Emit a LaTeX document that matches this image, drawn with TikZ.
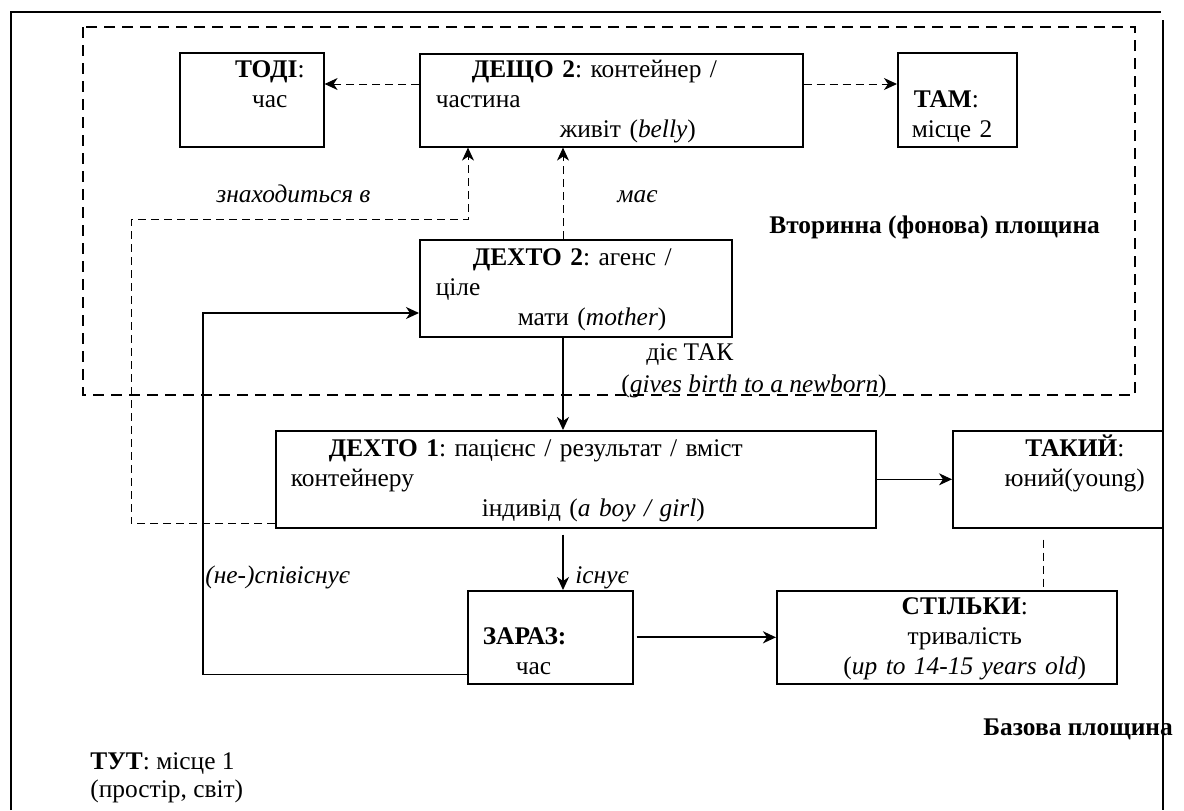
\documentclass[tikz,border=0pt]{standalone}
\usepackage{fontspec}
\setmainfont{Liberation Serif}
\usetikzlibrary{arrows.meta}

\newcommand{\topstrut}{\rule{0pt}{12pt}}
\newcommand{\botstrut}{\rule[-4.5pt]{0pt}{4.5pt}}
\frenchspacing

\begin{document}
\begin{tikzpicture}[x=0.5pt, y=-0.5pt, font=\fontsize{12.7}{15}\selectfont]

    \tikzstyle{box} = [draw, line width=0.8pt, inner sep=0, anchor=north west];
    \tikzstyle{leftbox} = [box, align=left];
    \tikzstyle{centerbox} = [box, align=center];
    \tikzstyle{arrow} = [line width=0.6pt, ->, >={Stealth[length=6.5pt, width=6pt, inset=2pt]}];
    \tikzstyle{dasharrow} = [arrow, line width=0.5pt, dash pattern=on 4pt off 2.5pt];
    \tikzstyle{dashline} = [line width=0.5pt, dash pattern=on 4pt off 2.5pt];
    \tikzstyle{plane} = [line width=1pt, dash pattern=on 5.5pt off 3.5pt];
    \tikzstyle{labelnode} = [inner sep=0, anchor=base west];

    \useasboundingbox (0,0) rectangle (1184,810);

    % Frames
    \draw[line width=0.7pt] (11,810) -- (11,12) -- (1161,12);
    \draw[line width=0.7pt] (1163,20) -- (1163,810);
    \draw[plane] (83,27) rectangle (1135,395);

    % Secondary plane
    \node[centerbox, text width=72pt, minimum height=47pt] (todi) at (179,52)
        {\topstrut\hspace*{18pt}\textbf{ТОДІ}:\\ \hspace*{18pt}час\\ \botstrut};
    \node[leftbox, text width=191.5pt, minimum height=46.5pt] (deshcho) at (419,53)
        {\topstrut\hspace*{26pt}\textbf{ДЕЩО 2}: контейнер /\\ \hspace*{8pt}частина\\ \hspace*{70pt}живіт (\textit{belly})\botstrut};
    \node[leftbox, text width=59.5pt, minimum height=47pt] (tam) at (897,52)
        {\topstrut\\ \hspace*{8pt}\textbf{ТАМ}:\\ \hspace*{7pt}місце 2\botstrut};
    \node[leftbox, text width=156pt, minimum height=48.5pt] (dekhto2) at (419,239)
        {\topstrut\hspace*{26.5pt}\textbf{ДЕХТО 2}: агенс /\\ \hspace*{8pt}ціле\\ \hspace*{49pt}мати (\textit{mother})\botstrut};

    % Base plane
    \node[leftbox, text width=300pt, minimum height=48.5pt] (dekhto1) at (275,430)
        {\topstrut\hspace*{26.5pt}\textbf{ДЕХТО 1}: пацієнс / результат / вміст\\ \hspace*{7.5pt}контейнеру\\ \hspace*{103pt}індивід (\textit{a boy / girl})\botstrut};
    \node[centerbox, text width=105pt, minimum height=48.5pt] (takyi) at (952,430)
        {\topstrut\hspace*{17pt}\textbf{ТАКИЙ}:\\ \hspace*{17pt}юний(young)\\ \botstrut};
    \node[leftbox, text width=82.5pt, minimum height=46.5pt] (zaraz) at (467,590)
        {\topstrut\\ \hspace*{7.5pt}\textbf{ЗАРАЗ:}\\ \hspace*{24pt}час\botstrut};
    \node[centerbox, text width=170pt, minimum height=46.5pt] (stilky) at (776,590)
        {\topstrut\hspace*{18pt}\textbf{СТІЛЬКИ}:\\ \hspace*{18pt}тривалість\\ \hspace*{18pt}(\textit{up to 14-15 years old})\botstrut};

    % Connectors
    \coordinate (midcol) at (563,0);

    \draw[dasharrow] ([yshift=-15.5pt]deshcho.north west) -- ([yshift=-16pt]todi.north east);
    \draw[dasharrow] ([yshift=-15.5pt]deshcho.north east) -- ([yshift=-16pt]tam.north west);
    \draw[dasharrow] (dekhto2.north -| midcol) -- (deshcho.south -| midcol);
    \draw[dasharrow] ([yshift=2.5pt]dekhto1.south west) -- ++(-144,0)
        |- ([xshift=24.5pt,yshift=-36pt]deshcho.south west) -- ([xshift=24.5pt]deshcho.south west);

    \draw[arrow] (dekhto2.south -| midcol) -- (dekhto1.north -| midcol);
    \draw[arrow] ([yshift=-3pt]dekhto1.south -| midcol) -- (zaraz.north -| midcol);
    \draw[arrow] (dekhto1.east) -- (takyi.west);
    \draw[arrow, line width=1pt] ([xshift=1.5pt]zaraz.east) -- (stilky.west);
    \draw[arrow] ([yshift=5pt]zaraz.south west) -- ++(-264,0) |- ([yshift=-37pt]dekhto2.north west);
    \draw[dashline] ([xshift=-7pt,yshift=-5.5pt]takyi.south) -- ([xshift=-7pt]takyi.south |- stilky.north);

    % Labels
    \node[labelnode] (locLabel) at (216,202) {\textit{знаходиться в}};
    \node[labelnode] (hasLabel) at (617,202) {\textit{має}};
    \node[labelnode] (secPlane) at (769,233) {\textbf{Вторинна (фонова) площина}};
    \node[labelnode] (actLabel) at (646,360) {діє ТАК};
    \node[labelnode] (actGloss) at (621,392) {(\textit{gives birth to a newborn})};
    \node[labelnode] (coexLabel) at (205,583) {\textit{(не-)співіснує}};
    \node[labelnode] (existLabel) at (575,583) {\textit{існує}};
    \node[labelnode] (basePlane) at (983,735) {\textbf{Базова площина}};
    \node[labelnode] (hereLabel) at (90,769) {\textbf{ТУТ}: місце 1};
    \node[labelnode] (hereGloss) at (90,797) {(простір, світ)};

\end{tikzpicture}
\end{document}
